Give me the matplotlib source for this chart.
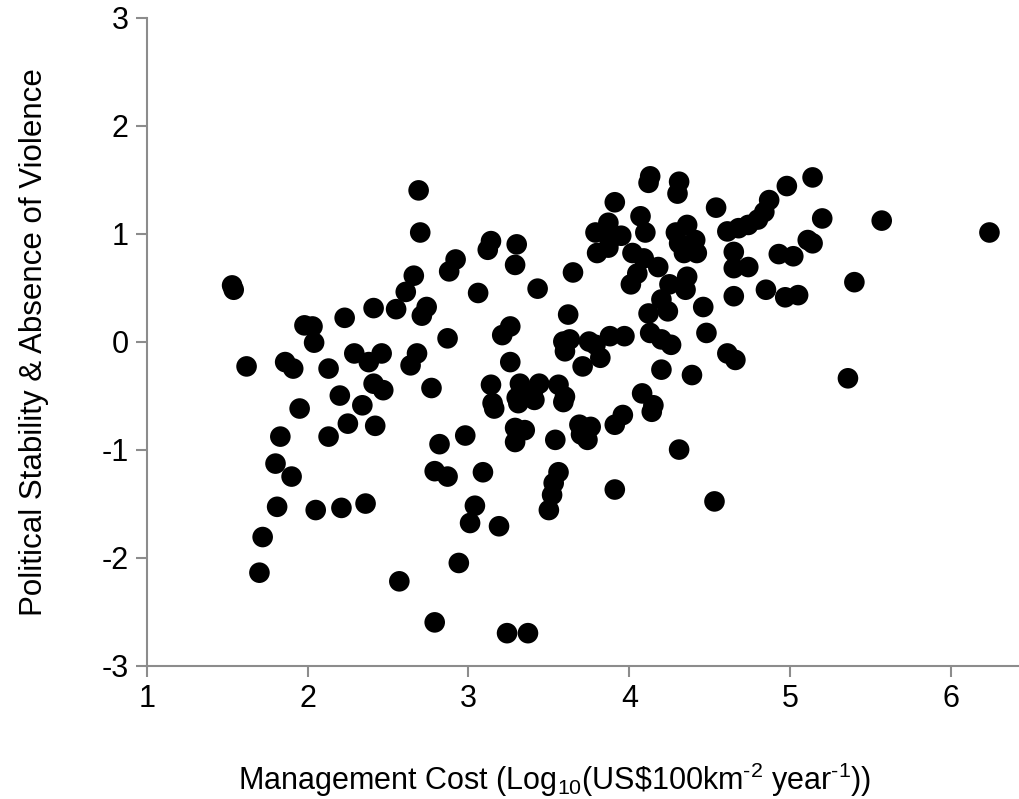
import matplotlib
matplotlib.use("Agg")
import matplotlib.pyplot as plt

# management cost (log10) vs political stability, one point per country
cost = [
    1.53, 1.54, 1.62, 1.70, 1.72, 1.80, 1.81, 1.83, 1.86, 1.90, 1.91, 1.95,
    1.98, 2.03, 2.04, 2.05, 2.13, 2.13, 2.20, 2.21, 2.23, 2.25, 2.29, 2.34,
    2.36, 2.38, 2.41, 2.41, 2.42, 2.46, 2.47, 2.55, 2.57, 2.61, 2.64, 2.66,
    2.68, 2.69, 2.70, 2.71, 2.74, 2.77, 2.79, 2.79, 2.82, 2.87, 2.87, 2.88,
    2.92, 2.94, 2.98, 3.01, 3.04, 3.06, 3.09, 3.12, 3.14, 3.14, 3.15, 3.16,
    3.19, 3.21, 3.24, 3.26, 3.26, 3.29, 3.29, 3.29, 3.30, 3.30, 3.31, 3.32,
    3.35, 3.37, 3.40, 3.41, 3.43, 3.44, 3.50, 3.52, 3.53, 3.54, 3.56, 3.56,
    3.59, 3.59, 3.60, 3.60, 3.62, 3.63, 3.65, 3.69, 3.70, 3.71, 3.74, 3.75,
    3.76, 3.79, 3.79, 3.80, 3.82, 3.87, 3.87, 3.88, 3.88, 3.91, 3.91, 3.91,
    3.95, 3.96, 3.97, 4.01, 4.02, 4.05, 4.07, 4.08, 4.09, 4.10, 4.12, 4.12,
    4.13, 4.13, 4.14, 4.15, 4.18, 4.20, 4.20, 4.20, 4.24, 4.25, 4.26, 4.29,
    4.30, 4.31, 4.31, 4.31, 4.34, 4.35, 4.36, 4.36, 4.39, 4.41, 4.42, 4.46,
    4.48, 4.53, 4.54, 4.61, 4.61, 4.65, 4.65, 4.65, 4.66, 4.68, 4.74, 4.74,
    4.80, 4.84, 4.85, 4.87, 4.93, 4.97, 4.98, 5.02, 5.05, 5.11, 5.14, 5.14,
    5.20, 5.36, 5.40, 5.57, 6.24,
]
stability = [
    0.52, 0.48, -0.23, -2.14, -1.81, -1.13, -1.53, -0.88, -0.19, -1.25, -0.25, -0.62,
    0.15, 0.14, -0.01, -1.56, -0.25, -0.88, -0.50, -1.54, 0.22, -0.76, -0.11, -0.59,
    -1.50, -0.19, 0.31, -0.39, -0.78, -0.11, -0.45, 0.30, -2.22, 0.46, -0.22, 0.61,
    -0.11, 1.40, 1.01, 0.24, 0.32, -0.43, -1.20, -2.60, -0.95, 0.03, -1.25, 0.65,
    0.76, -2.05, -0.87, -1.68, -1.52, 0.45, -1.21, 0.85, 0.93, -0.40, -0.57, -0.62,
    -1.71, 0.06, -2.70, 0.14, -0.19, 0.71, -0.80, -0.93, 0.90, -0.52, -0.57, -0.39,
    -0.82, -2.70, -0.48, -0.54, 0.49, -0.39, -1.56, -1.42, -1.31, -0.91, -1.21, -0.40,
    -0.56, 0.00, -0.09, -0.51, 0.25, 0.02, 0.64, -0.77, -0.86, -0.23, -0.91, 0.00,
    -0.79, -0.03, 1.01, 0.82, -0.15, 1.10, 0.87, 0.94, 0.05, 1.29, -0.77, -1.37,
    0.98, -0.68, 0.05, 0.53, 0.82, 0.63, 1.16, -0.48, 0.77, 1.01, 0.26, 1.47,
    1.53, 0.08, -0.65, -0.59, 0.69, 0.39, 0.02, -0.26, 0.28, 0.53, -0.03, 1.01,
    1.37, 1.48, 0.91, -1.00, 0.82, 0.48, 1.08, 0.60, -0.31, 0.94, 0.82, 0.32,
    0.08, -1.48, 1.24, 1.02, -0.11, 0.83, 0.68, 0.42, -0.17, 1.05, 1.08, 0.69,
    1.13, 1.20, 0.48, 1.31, 0.81, 0.41, 1.44, 0.79, 0.43, 0.94, 1.52, 0.91,
    1.14, -0.34, 0.55, 1.12, 1.01,
]

x_ticks = [1, 2, 3, 4, 5, 6]
y_ticks = [-3, -2, -1, 0, 1, 2, 3]

plt.rcParams["font.family"] = ["Liberation Sans", "DejaVu Sans"]
plt.rcParams["mathtext.fontset"] = "custom"
plt.rcParams["mathtext.rm"] = "Liberation Sans"
plt.rcParams["mathtext.default"] = "regular"
plt.rcParams["axes.unicode_minus"] = False

axis_grey = "#8c8c8c"

fig = plt.figure(figsize=(10.2, 7.99), dpi=100)
ax = fig.add_axes([0.144, 0.167, 0.856, 0.811])

ax.scatter(cost, stability, s=220, color="black", edgecolors="none", zorder=3,
           clip_on=False)

ax.set_xlim(1, 6.43)
ax.set_ylim(-3, 3)
ax.set_xticks(x_ticks)
ax.set_yticks(y_ticks)

for side in ["top", "right"]:
    ax.spines[side].set_visible(False)
for side in ["left", "bottom"]:
    ax.spines[side].set_color(axis_grey)
    ax.spines[side].set_linewidth(1.5)

ax.tick_params(axis="both", direction="out", length=8, width=1.5,
               color=axis_grey, labelsize=22, labelcolor="black")
ax.tick_params(axis="x", pad=5)
ax.tick_params(axis="y", pad=5)

# hyphen instead of mathtext minus in the superscripts
ax.set_xlabel("Management Cost (Log$_{10}$(US\\$100km$^{\u20102}$ year$^{\u20101}$))",
              fontsize=22, labelpad=34)
ax.xaxis.label.set_x(0.467)
ax.set_ylabel("Political Stability & Absence of Violence", fontsize=22.5,
              labelpad=38)

fig.savefig("out.png", dpi=100)
